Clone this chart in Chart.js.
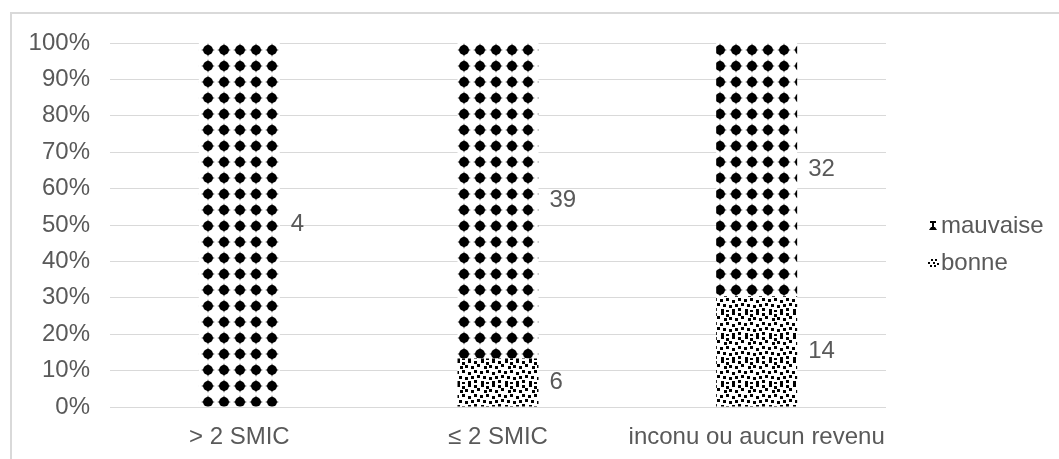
<!DOCTYPE html>
<html><head><meta charset="utf-8">
<script src="https://cdn.jsdelivr.net/npm/chart.js@4/dist/chart.umd.min.js"></script>
<style>html,body{margin:0;padding:0;background:#fff}#wrap{width:1059px;height:459px;position:relative}</style>
</head><body><div id="wrap"><canvas id="c" width="1059" height="459"></canvas></div>
<script>
const categories = ['> 2 SMIC', '\u2264 2 SMIC', 'inconu ou aucun revenu'];
const bonneCounts = [0, 6, 14];
const mauvaiseCounts = [4, 39, 32];
const seriesNames = ['bonne', 'mauvaise'];
const yTickMax = 100;
const yTickStep = 10;

const totals = categories.map((_, i) => bonneCounts[i] + mauvaiseCounts[i]);
const bonnePct = bonneCounts.map((v, i) => v / totals[i] * 100);
const mauvaisePct = mauvaiseCounts.map((v, i) => v / totals[i] * 100);
const countsBySeries = [bonneCounts, mauvaiseCounts];

const FONT = "'Liberation Sans', Arial, sans-serif";
const FS = 24;
const TEXT = '#595959';
const GRID = '#d9d9d9';

function makeDiamondPattern() {
  const c = document.createElement('canvas'); c.width = 16; c.height = 16;
  const g = c.getContext('2d');
  g.fillStyle = '#fff'; g.fillRect(0, 0, 16, 16);
  g.fillStyle = '#000';
  g.beginPath(); g.arc(8, 8, 4.9, 0, Math.PI * 2); g.fill();
  g.beginPath(); g.moveTo(8, 1.2); g.lineTo(10.2, 8); g.lineTo(8, 14.8); g.lineTo(5.8, 8); g.closePath(); g.fill();
  g.beginPath(); g.moveTo(1.2, 8); g.lineTo(8, 5.8); g.lineTo(14.8, 8); g.lineTo(8, 10.2); g.closePath(); g.fill();
  const p = document.getElementById('c').getContext('2d').createPattern(c, 'repeat');
  p.setTransform(new DOMMatrix([1, 0, 0, 1, -8, -6]));
  return p;
}
function makeConfettiPattern() {
  const c = document.createElement('canvas'); c.width = 24; c.height = 24;
  const g = c.getContext('2d');
  g.fillStyle = '#fff'; g.fillRect(0, 0, 24, 24);
  g.fillStyle = '#000';
  const sq = [[1,0],[6,2],[12,0],[18,1],[4,6],[9,5],[15,6],[21,4],[0,11],[6,10],[12,12],[18,10],[3,16],[9,17],[15,16],[21,15],[1,21],[6,22],[12,21],[18,20]];
  sq.forEach(([x, y]) => g.fillRect(x, y, 3, 3));
  return document.getElementById('c').getContext('2d').createPattern(c, 'repeat');
}
const diamondPat = makeDiamondPattern();
const confettiPat = makeConfettiPattern();

const framePlugin = {
  id: 'frame',
  beforeDraw(chart) {
    const ctx = chart.ctx;
    ctx.save();
    ctx.fillStyle = '#fff'; ctx.fillRect(0, 0, chart.width, chart.height);
    ctx.strokeStyle = GRID; ctx.lineWidth = 2;
    ctx.beginPath(); ctx.moveTo(11, chart.height + 5); ctx.lineTo(11, 13); ctx.lineTo(chart.width + 5, 13); ctx.stroke();
    ctx.restore();
  }
};

const labelPlugin = {
  id: 'valueLabels',
  afterDatasetsDraw(chart) {
    const ctx = chart.ctx;
    ctx.save();
    ctx.font = FS + 'px ' + FONT; ctx.fillStyle = TEXT;
    ctx.textAlign = 'left'; ctx.textBaseline = 'middle';
    chart.data.datasets.forEach((ds, i) => {
      const meta = chart.getDatasetMeta(i);
      meta.data.forEach((bar, j) => {
        const v = countsBySeries[i][j];
        if (!v) return;
        const p = bar.getProps(['x', 'y', 'base', 'width'], true);
        ctx.fillText(String(v), p.x + p.width / 2 + 11, (p.y + p.base) / 2);
      });
    });
    ctx.restore();
  }
};

const legendPlugin = {
  id: 'customLegend',
  afterDraw(chart) {
    const ctx = chart.ctx, a = chart.chartArea;
    const mid = (a.top + a.bottom) / 2;
    const x0 = a.right + 43;
    ctx.save();
    ctx.font = FS + 'px ' + FONT; ctx.fillStyle = TEXT;
    ctx.textAlign = 'left'; ctx.textBaseline = 'middle';
    const items = [{ name: seriesNames[1], y: mid + 1, kind: 'm' }, { name: seriesNames[0], y: mid + 38, kind: 'b' }];
    items.forEach(it => {
      ctx.fillStyle = '#000';
      const y = it.y;
      if (it.kind === 'm') {
        ctx.fillRect(x0 + 1, y - 5, 6, 2);
        ctx.fillRect(x0 + 3, y - 3, 2, 4);
        ctx.beginPath(); ctx.moveTo(x0 + 2, y + 1); ctx.lineTo(x0 + 6, y + 1); ctx.lineTo(x0 + 8, y + 4); ctx.lineTo(x0, y + 4); ctx.closePath(); ctx.fill();
      } else {
        [[0,0],[3,-3],[5,0],[7,-3],[2,3],[6,3],[9,1]].forEach(([dx, dy]) => ctx.fillRect(x0 - 1 + dx, y + dy - 1, 2, 2));
      }
      ctx.fillStyle = TEXT;
      ctx.fillText(it.name, x0 + 12, y);
    });
    ctx.restore();
  }
};

new Chart(document.getElementById('c'), {
  type: 'bar',
  data: {
    labels: categories,
    datasets: [
      { label: seriesNames[0], data: bonnePct, backgroundColor: confettiPat, borderWidth: 0, barPercentage: 0.313, categoryPercentage: 1 },
      { label: seriesNames[1], data: mauvaisePct, backgroundColor: diamondPat, borderWidth: 0, barPercentage: 0.313, categoryPercentage: 1 }
    ]
  },
  options: {
    responsive: false, animation: false, devicePixelRatio: 1,
    layout: { padding: { left: 0, right: 173, top: 43, bottom: 0 } },
    plugins: { legend: { display: false }, tooltip: { enabled: false } },
    scales: {
      x: {
        stacked: true,
        grid: { display: false, drawTicks: false },
        border: { display: false },
        ticks: { color: TEXT, font: { family: FONT, size: FS }, padding: 16, maxRotation: 0, autoSkip: false },
        afterFit(s) { s.height = 52; }
      },
      y: {
        stacked: true, min: 0, max: yTickMax,
        grid: { color: GRID, lineWidth: 1, drawTicks: false },
        border: { display: false },
        ticks: { stepSize: yTickStep, color: TEXT, font: { family: FONT, size: FS }, padding: 20, callback: v => v + '%' },
        afterFit(s) { s.width = 110; }
      }
    }
  },
  plugins: [framePlugin, labelPlugin, legendPlugin]
});
</script></body></html>
